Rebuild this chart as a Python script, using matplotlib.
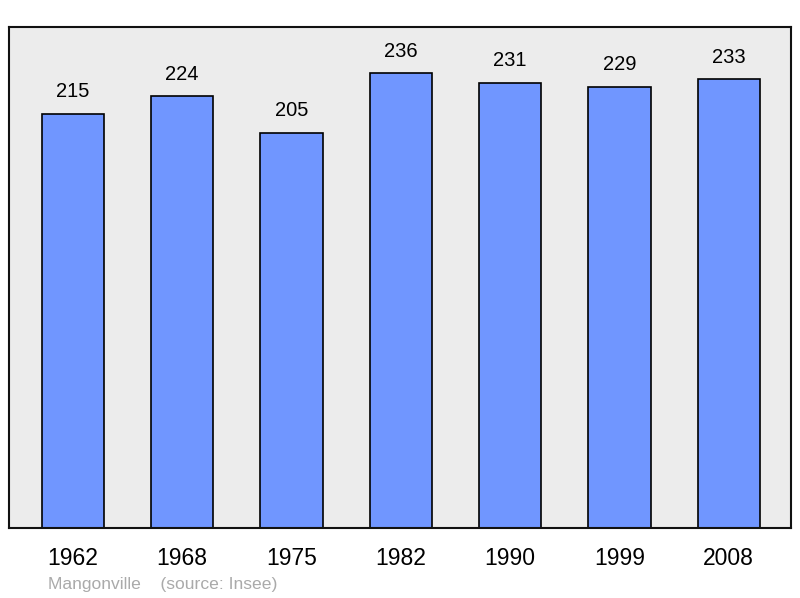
import matplotlib.pyplot as plt

plt.rcParams['font.family'] = ['Liberation Sans', 'DejaVu Sans']

years = ["1962", "1968", "1975", "1982", "1990", "1999", "2008"]
population = [215, 224, 205, 236, 231, 229, 233]

fig = plt.figure(figsize=(8, 5.98), dpi=100)
ax = fig.add_axes([9 / 800, 70 / 598, 782 / 800, 501 / 598])
ax.set_facecolor("#ececec")

x = list(range(len(years)))
bars = ax.bar(x, population, width=0.57, color="#7096ff", edgecolor="black", linewidth=1.2)

for xi, v in zip(x, population):
    ax.annotate(str(v), (xi, v), xytext=(0, 9), textcoords="offset points",
                ha="center", va="bottom", fontsize=14.5)

ax.set_xlim(-0.585, 6.57)
ax.set_ylim(0, 260)
ax.set_yticks([])
ax.set_xticks(x)
ax.set_xticklabels(years, fontsize=16.5)
ax.tick_params(axis="x", length=0, pad=14)
for s in ax.spines.values():
    s.set_linewidth(1.5)
    s.set_color("#111111")

fig.text(48 / 800, 1 - 584 / 598, "Mangonville    (source: Insee)", color="#aaaaaa",
         fontsize=12.6, ha="left", va="center")

fig.savefig("out.png")
